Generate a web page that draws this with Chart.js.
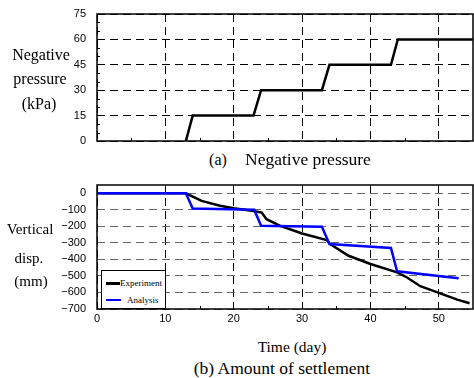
<!DOCTYPE html>
<html><head><meta charset="utf-8">
<script src="https://cdn.jsdelivr.net/npm/chart.js@4.4.1/dist/chart.umd.min.js"></script>
<style>
html,body{margin:0;padding:0;background:#fff;}
#wrap{position:relative;width:474px;height:378px;overflow:hidden;background:#fff;}
canvas{position:absolute;left:0;}
.t{position:absolute;font-family:"Liberation Serif","Times New Roman",serif;color:#000;white-space:nowrap;transform:translate(-50%,-50%);line-height:1;}
.l{transform:translate(0,-50%);}
#leg{position:absolute;left:101px;top:270px;width:63px;height:37px;border:1px solid #000;background:#fff;overflow:hidden;font-family:"Liberation Serif","Times New Roman",serif;font-size:9px;line-height:1;color:#000;}
#leg span{position:absolute;white-space:nowrap;}
#leg i{position:absolute;display:block;}
</style></head><body>
<div id="wrap">
<canvas id="c1" width="474" height="150" style="top:0"></canvas>
<canvas id="c2" width="474" height="155" style="top:175px"></canvas>

<div class="t" style="left:41px;top:55px;font-size:16px">Negative</div>
<div class="t" style="left:40px;top:79px;font-size:16px">pressure</div>
<div class="t" style="left:39px;top:104px;font-size:16px">(kPa)</div>
<div class="t" style="left:218px;top:160px;font-size:16px">(a)</div>
<div class="t l" style="left:245px;top:160px;font-size:17.5px">Negative pressure</div>

<div class="t" style="left:30px;top:229px;font-size:15px">Vertical</div>
<div class="t" style="left:29px;top:258px;font-size:15px">disp.</div>
<div class="t" style="left:31px;top:281px;font-size:15px">(mm)</div>
<div class="t" style="left:292px;top:347px;font-size:15.5px">Time (day)</div>
<div class="t" style="left:282px;top:369px;font-size:17.5px">(b) Amount of settlement</div>

<div id="leg">
  <i style="left:4px;top:11px;width:14px;height:2.5px;background:#000"></i>
  <span style="left:18px;top:7.5px">Experiment</span>
  <i style="left:4px;top:27.5px;width:15px;height:2.5px;background:#0000ff"></i>
  <span style="left:25px;top:24.5px">Analysis</span>
</div>
</div>
<script>
// ---- data ----
const pressureDays = [13, 14, 22.9, 24, 32.9, 34, 43, 44, 55];
const pressureVals = [0, 15, 15, 30, 30, 45, 45, 60, 60];

const expDays = [0, 13, 15.3, 18, 20, 22.9, 24.1, 24.8, 26.8, 30, 33.6, 34.1, 36.8, 40, 43.9, 45.3, 47.3, 49.7, 52.7, 54.5];
const expVals = [0, 0, -46, -76, -90, -107, -117, -157, -197, -243, -283, -307, -378, -428, -478, -508, -562, -598, -643, -665];

const anaDays = [0, 13, 14, 23, 24, 32.9, 34, 43, 43.9, 52.9];
const anaVals = [0, 0, -92, -100, -197, -203, -307, -331, -472, -514];

const pressureTicks = [0, 15, 30, 45, 60, 75];
const dispTicks = [0, -100, -200, -300, -400, -500, -600, -700];
const dayTicks = [0, 10, 20, 30, 40, 50];
const dayMinor = [5, 15, 25, 35, 45];
const pressureMinor = [5, 10, 20, 25, 35, 40, 50, 55, 65, 70];

const pts = (xs, ys) => xs.map((x, i) => ({x: x, y: ys[i]}));

const frameTicks = {
  id: 'frameTicks',
  beforeDatasetsDraw(chart, args, opts) {
    const {ctx, chartArea: a, scales} = chart;
    ctx.save();
    ctx.setLineDash([]);
    ctx.strokeStyle = '#000';
    ctx.lineWidth = 1;
    ctx.beginPath();
    (opts.xMinor || []).forEach(v => {
      const px = Math.round(scales.x.getPixelForValue(v)) + 0.5;
      ctx.moveTo(px, a.bottom); ctx.lineTo(px, a.bottom - opts.len);
    });
    (opts.yMinor || []).forEach(v => {
      const py = Math.round(scales.y.getPixelForValue(v)) + 0.5;
      ctx.moveTo(a.left, py); ctx.lineTo(a.left + opts.len, py);
    });
    ctx.stroke();
    ctx.lineWidth = 1.5;
    ctx.strokeRect(a.left, a.top, a.right - a.left, a.bottom - a.top);
    ctx.restore();
  }
};

const tickFont = {family: '"Liberation Sans", Arial, sans-serif', size: 11};
const clear = 'rgba(0,0,0,0)';

new Chart(document.getElementById('c1'), {
  type: 'scatter',
  data: {datasets: [{
    label: 'Negative pressure',
    data: pts(pressureDays, pressureVals),
    showLine: true, borderColor: '#000', borderWidth: 2.5, pointRadius: 0, fill: false, tension: 0
  }]},
  options: {
    responsive: false, animation: false, devicePixelRatio: 1,
    layout: {padding: {left: 0, right: 1, top: 14, bottom: 0}},
    plugins: {legend: {display: false}, tooltip: {enabled: false},
      frameTicks: {xMinor: dayMinor, yMinor: pressureMinor, len: 3}},
    scales: {
      x: {type: 'linear', min: 0, max: 55,
        afterBuildTicks: s => { s.ticks = dayTicks.map(v => ({value: v})); },
        ticks: {display: false, padding: 0},
        grid: {color: '#000', lineWidth: 1, drawTicks: false},
        border: {display: false, dash: [8, 5]},
        afterFit: s => { s.height = 9; }},
      y: {type: 'linear', min: 0, max: 75,
        afterBuildTicks: s => { s.ticks = pressureTicks.map(v => ({value: v})); },
        ticks: {padding: 0, color: '#000', font: tickFont},
        grid: {color: '#000', lineWidth: 1, drawTicks: true, tickLength: 11, tickColor: clear},
        border: {display: false, dash: [8, 5]},
        afterFit: s => { s.width = 97; }}
    }
  },
  plugins: [frameTicks]
});

new Chart(document.getElementById('c2'), {
  type: 'scatter',
  data: {datasets: [
    {label: 'Analysis', data: pts(anaDays, anaVals), showLine: true, borderColor: '#0000ff',
     borderWidth: 2.5, pointRadius: 0, fill: false, tension: 0},
    {label: 'Experiment', data: pts(expDays, expVals), showLine: true, borderColor: '#000',
     borderWidth: 2.5, pointRadius: 0, fill: false, tension: 0}
  ]},
  options: {
    responsive: false, animation: false, devicePixelRatio: 1,
    layout: {padding: {left: 0, right: 1, top: 10, bottom: 0}},
    plugins: {legend: {display: false}, tooltip: {enabled: false},
      frameTicks: {xMinor: dayMinor, yMinor: [], len: 3}},
    scales: {
      x: {type: 'linear', min: 0, max: 55,
        afterBuildTicks: s => { s.ticks = dayTicks.map(v => ({value: v})); },
        ticks: {padding: 0, color: '#000', font: tickFont, maxRotation: 0},
        grid: {color: '#000', lineWidth: 1, drawTicks: true, tickLength: 3, tickColor: clear},
        border: {display: false, dash: [8, 5]},
        afterFit: s => { s.height = 21; }},
      y: {type: 'linear', min: -700, max: 50,
        afterBuildTicks: s => { s.ticks = dispTicks.map(v => ({value: v})); },
        ticks: {padding: 0, color: '#000', font: tickFont,
          callback: v => v < 0 ? '\u2212' + Math.abs(v) : String(v)},
        grid: {color: '#666', lineWidth: 1, drawTicks: true, tickLength: 11, tickColor: clear},
        border: {display: false, dash: [8, 5]},
        afterFit: s => { s.width = 97; }}
    }
  },
  plugins: [frameTicks]
});
</script>
</body></html>
